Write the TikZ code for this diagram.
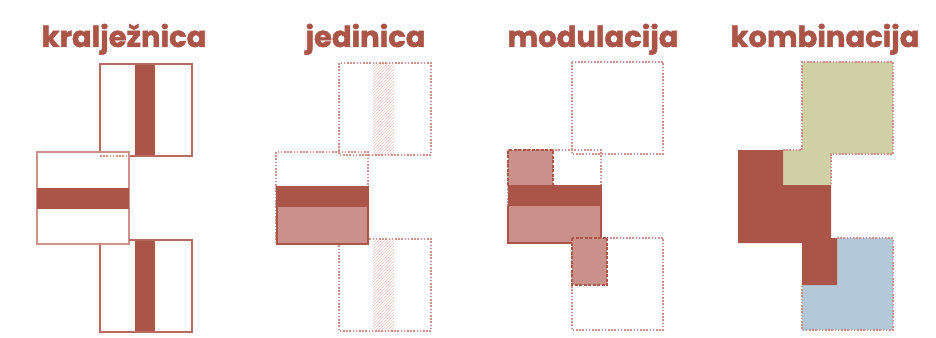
\documentclass[tikz,border=0pt]{standalone}
\usepackage{fontspec}
\setmainfont{Poppins}[BoldFeatures={FakeBold=1.6}]
\usetikzlibrary{patterns}
\definecolor{dark}{HTML}{AB5548}
\definecolor{lite}{HTML}{C9918A}
\definecolor{edge}{HTML}{CE928B}
\definecolor{edgedk}{HTML}{B9695E}
\definecolor{grn}{HTML}{CFD0A5}
\definecolor{blu}{HTML}{B3C8D8}
\definecolor{hatch}{HTML}{EBC6C1}
\tikzset{
  ttl/.style={anchor=base, text=dark, font=\bfseries\fontsize{29}{32}\selectfont, inner sep=0pt},
  solidedge/.style={draw=edge, line width=1.2pt},
  solidedgedk/.style={draw=edgedk, line width=1.2pt},
  dotedge/.style={draw=edge, line width=1.2pt, dash pattern=on 1.6pt off 1.6pt},
  dashdk/.style={draw=dark, line width=1.6pt, dash pattern=on 3pt off 1.5pt},
  hatchbar/.style={pattern=north east lines, pattern color=hatch},
}
\begin{document}
\begin{tikzpicture}[x=1pt,y=-1pt]
\useasboundingbox (0,0) rectangle (936,337);
% titles
\node[ttl] (t1) at (124,47) {kralježnica};
\node[ttl] (t2) at (365.5,47) {jedinica};
\node[ttl] (t3) at (593,47) {modulacija};
\node[ttl] (t4) at (825,47) {kombinacija};

% ---- panel 1
\fill[dark] (135,64) rectangle (155,156);
\fill[dark] (135,240) rectangle (155,332);
\draw[solidedgedk] (100,152) -- (100,64) -- (192,64) -- (192,156) -- (129,156);
\draw[dotedge] (100,156) -- (129,156);
\draw[solidedge] (37,152) rectangle (129,244);
\draw[solidedgedk] (100,244) -- (100,332) -- (192,332) -- (192,240) -- (129,240);
\draw[dotedge] (100,244) -- (129,244);
\fill[dark] (37,188) rectangle (129,209);

% ---- panel 2
\fill[hatchbar] (373,63) rectangle (394,155);
\fill[hatchbar] (373,239) rectangle (394,331);
\draw[dotedge] (339,63) rectangle (431,155);
\draw[dotedge] (339,239) rectangle (431,331);
\draw[dotedge] (276,152) rectangle (368,244);
\fill[lite] (277,207) rectangle (368,244);
\fill[dark] (276,187) rectangle (369,207);
\draw[draw=dark, line width=2pt] (277,187) rectangle (368,244);

% ---- panel 3
\draw[dotedge] (572,62) rectangle (663,154);
\draw[dotedge] (572,238) rectangle (663,330);
\draw[dotedge] (508,150) rectangle (601,243);
\fill[lite] (508,150) rectangle (553,185);
\draw[dashdk] (508,185) -- (508,150) -- (553,150) -- (553,185);
\fill[lite] (508,206) rectangle (601,243);
\fill[dark] (508,185) rectangle (601,206);
\draw[draw=dark, line width=1.8pt] (508,206) -- (508,243) -- (601,243) -- (601,185);
\fill[lite] (572,238) rectangle (607,285);
\draw[dashdk] (572,238) rectangle (607,285);

% ---- panel 4
\fill[grn] (783,150) -- (802,150) -- (802,62) -- (893,62) -- (893,154) -- (831,154) -- (831,185) -- (783,185) -- cycle;
\draw[dotedge] (783,150) -- (802,150) -- (802,62) -- (893,62) -- (893,154) -- (831,154) -- (831,185);
\fill[blu] (837,238) -- (893,238) -- (893,330) -- (802,330) -- (802,285) -- (837,285) -- cycle;
\draw[dotedge] (837,238) -- (893,238) -- (893,330) -- (802,330) -- (802,285);
\fill[dark] (738,150) -- (783,150) -- (783,185) -- (831,185) -- (831,238) -- (837,238) -- (837,285) -- (802,285) -- (802,243) -- (738,243) -- cycle;
\end{tikzpicture}
\end{document}
